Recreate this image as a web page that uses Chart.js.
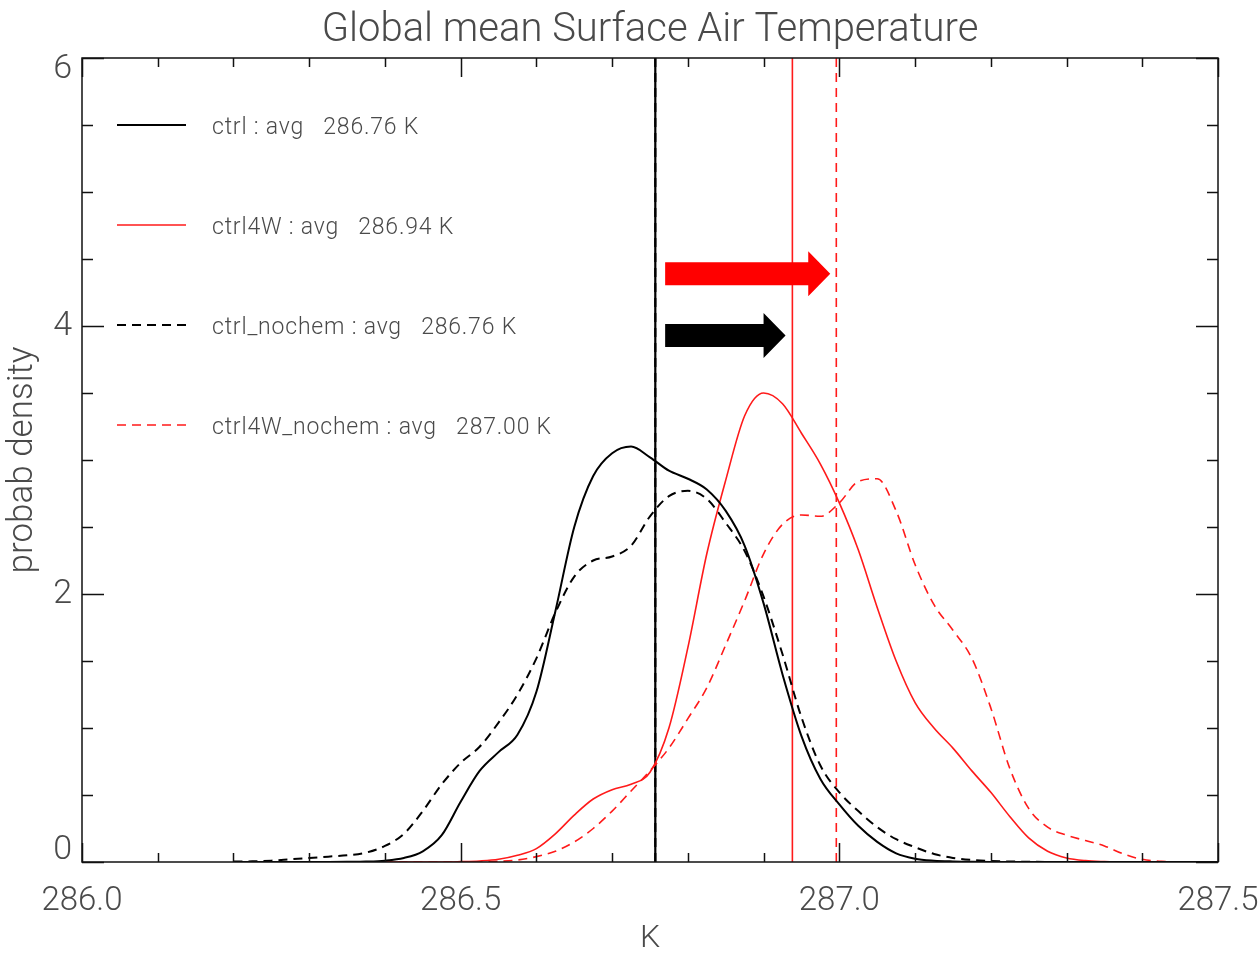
<!DOCTYPE html>
<html>
<head>
<meta charset="utf-8">
<script src="https://cdn.jsdelivr.net/npm/chart.js@4.4.1/dist/chart.umd.min.js"></script>
<style>
  html, body { margin: 0; padding: 0; background: #ffffff; }
  #c { display: block; }
</style>
</head>
<body>
<canvas id="c" width="1259" height="957"></canvas>
<script>
// ---------------- data ----------------
const temps = [
  286.200, 286.225, 286.250, 286.275, 286.300, 286.325, 286.350, 286.375, 286.400, 286.425,
  286.450, 286.475, 286.500, 286.525, 286.550, 286.575, 286.600, 286.625, 286.650, 286.675,
  286.700, 286.725, 286.750, 286.775, 286.800, 286.825, 286.850, 286.875, 286.900, 286.925,
  286.950, 286.975, 287.000, 287.025, 287.050, 287.075, 287.100, 287.125, 287.150, 287.175,
  287.200, 287.225, 287.250, 287.275, 287.300, 287.325, 287.350, 287.375, 287.400, 287.425,
  287.450, 287.475, 287.500
];
const ctrl = [
  0, 0, 0, 0, 0, 0, 0.001, 0.003, 0.01, 0.03,
  0.08, 0.20, 0.45, 0.68, 0.82, 0.95, 1.27, 1.87, 2.50, 2.88,
  3.05, 3.10, 3.02, 2.92, 2.86, 2.78, 2.62, 2.36, 1.93, 1.40,
  0.94, 0.62, 0.43, 0.27, 0.15, 0.065, 0.025, 0.01, 0.004, 0.001,
  0, 0, 0, 0, 0, 0, 0, 0, 0, 0,
  0, 0, 0
];
const ctrl4W = [
  0, 0, 0, 0, 0, 0, 0, 0, 0, 0,
  0, 0, 0.003, 0.008, 0.02, 0.05, 0.10, 0.21, 0.35, 0.47,
  0.54, 0.58, 0.67, 1.00, 1.60, 2.30, 2.85, 3.33, 3.50, 3.42,
  3.20, 2.97, 2.68, 2.33, 1.90, 1.50, 1.19, 1.00, 0.85, 0.68,
  0.52, 0.34, 0.18, 0.08, 0.03, 0.01, 0.003, 0, 0, 0,
  0, 0, 0
];
const ctrlNochem = [
  0.003, 0.005, 0.01, 0.02, 0.03, 0.04, 0.05, 0.07, 0.12, 0.21,
  0.38, 0.58, 0.74, 0.86, 1.04, 1.25, 1.52, 1.86, 2.13, 2.25,
  2.28, 2.36, 2.58, 2.73, 2.77, 2.71, 2.53, 2.32, 1.98, 1.55,
  1.08, 0.72, 0.52, 0.38, 0.26, 0.17, 0.11, 0.06, 0.03, 0.015,
  0.008, 0.004, 0.002, 0, 0, 0, 0, 0, 0, 0,
  0, 0, 0
];
const ctrl4WNochem = [
  0, 0, 0, 0, 0, 0, 0, 0, 0, 0,
  0, 0, 0, 0, 0.005, 0.015, 0.04, 0.08, 0.15, 0.25,
  0.38, 0.53, 0.68, 0.85, 1.07, 1.30, 1.62, 1.95, 2.30, 2.52,
  2.59, 2.58, 2.68, 2.84, 2.86, 2.62, 2.22, 1.92, 1.73, 1.52,
  1.15, 0.70, 0.40, 0.26, 0.20, 0.16, 0.12, 0.06, 0.02, 0.005,
  0, 0, 0
];
const seriesNames = ['ctrl', 'ctrl4W', 'ctrl_nochem', 'ctrl4W_nochem'];
const seriesAvg = [286.76, 286.94, 286.76, 287.00];
const meanLinePos = [286.757, 286.938, 286.757, 286.996];
const arrowFrom = [286.770, 286.770];
const arrowTo = [286.988, 286.929];
const arrowLevel = [4.39, 3.93];
const xMajorValues = [286.0, 286.5, 287.0, 287.5];
const xTickLabels = ['286.0', '286.5', '287.0', '287.5'];
const yMajorValues = [0, 2, 4, 6];
const yTickLabels = ['0', '2', '4', '6'];

// ---------------- styles ----------------
const RED = '#ff1a1a';
const curveSeries = [ctrl, ctrl4W, ctrlNochem, ctrl4WNochem];
const seriesColors = ['#000000', RED, '#000000', RED];
const seriesDash = [[], [], [9, 6], [9, 6]];
const seriesWidth = [2, 1.6, 2, 1.6];
const meanWidth = [2.2, 1.6, 2.2, 1.6];
const arrowColors = ['#ff0000', '#000000'];
const TEXT = '#4a4a4a';
const FONT = '"Roboto", "Liberation Sans", sans-serif';

const curveDatasets = curveSeries.map((vals, i) => ({
  label: seriesNames[i],
  data: temps.map((t, j) => ({ x: t, y: vals[j] })),
  borderColor: seriesColors[i],
  borderWidth: seriesWidth[i],
  borderDash: seriesDash[i],
  pointRadius: 0,
  fill: false,
  cubicInterpolationMode: 'monotone'
}));
const meanDatasets = meanLinePos.map((m, i) => ({
  label: seriesNames[i] + ' avg',
  data: [{ x: m, y: 0 }, { x: m, y: 6 }],
  borderColor: seriesColors[i],
  borderWidth: meanWidth[i],
  borderDash: seriesDash[i],
  pointRadius: 0,
  fill: false
}));

function labelFor(values, labels, v) {
  const k = values.findIndex(m => Math.abs(m - v) < 1e-6);
  return k >= 0 ? labels[k] : '';
}

// box + inward ticks on all four sides
const boxTicks = {
  id: 'boxTicks',
  afterDraw(chart) {
    const { ctx, chartArea: a, scales: { x, y } } = chart;
    ctx.save();
    ctx.strokeStyle = '#111';
    ctx.lineWidth = 1.5;
    ctx.setLineDash([]);
    ctx.strokeRect(a.left, a.top, a.right - a.left, a.bottom - a.top);
    ctx.beginPath();
    x.ticks.forEach(t => {
      const p = Math.round(x.getPixelForValue(t.value)) + 0.5;
      const len = t.label ? 19 : 9;
      ctx.moveTo(p, a.bottom); ctx.lineTo(p, a.bottom - len);
      ctx.moveTo(p, a.top); ctx.lineTo(p, a.top + len);
    });
    y.ticks.forEach(t => {
      const p = Math.round(y.getPixelForValue(t.value)) + 0.5;
      const len = t.label ? 22 : 11;
      ctx.moveTo(a.left, p); ctx.lineTo(a.left + len, p);
      ctx.moveTo(a.right, p); ctx.lineTo(a.right - len, p);
    });
    ctx.stroke();
    ctx.restore();
  }
};

// legend inside plot area
const innerLegend = {
  id: 'innerLegend',
  afterDatasetsDraw(chart) {
    const { ctx, chartArea: a } = chart;
    ctx.save();
    seriesNames.forEach((name, i) => {
      const ds = chart.data.datasets[i];
      const yy = a.top + 67 + i * 100;
      ctx.strokeStyle = ds.borderColor;
      ctx.lineWidth = ds.borderWidth;
      ctx.setLineDash(ds.borderDash);
      ctx.beginPath();
      ctx.moveTo(a.left + 35, yy);
      ctx.lineTo(a.left + 104, yy);
      ctx.stroke();
      ctx.fillStyle = TEXT;
      ctx.font = '300 23px ' + FONT;
      if ('letterSpacing' in ctx) ctx.letterSpacing = '0.8px';
      ctx.textBaseline = 'middle';
      ctx.textAlign = 'left';
      ctx.fillText(name + ' : avg   ' + seriesAvg[i].toFixed(2) + ' K', a.left + 130, yy + 3);
      if ('letterSpacing' in ctx) ctx.letterSpacing = '0px';
    });
    ctx.restore();
  }
};

// shift arrows
const shiftArrows = {
  id: 'shiftArrows',
  afterDatasetsDraw(chart) {
    const { ctx, scales: { x, y } } = chart;
    ctx.save();
    arrowFrom.forEach((f, i) => {
      const x0 = x.getPixelForValue(f);
      const x1 = x.getPixelForValue(arrowTo[i]);
      const yc = y.getPixelForValue(arrowLevel[i]);
      const sh = 11.5, hh = 22.5, hl = 22;
      ctx.fillStyle = arrowColors[i];
      ctx.beginPath();
      ctx.moveTo(x0, yc - sh);
      ctx.lineTo(x1 - hl, yc - sh);
      ctx.lineTo(x1 - hl, yc - hh);
      ctx.lineTo(x1, yc);
      ctx.lineTo(x1 - hl, yc + hh);
      ctx.lineTo(x1 - hl, yc + sh);
      ctx.lineTo(x0, yc + sh);
      ctx.closePath();
      ctx.fill();
    });
    ctx.restore();
  }
};

new Chart(document.getElementById('c'), {
  type: 'line',
  data: { datasets: curveDatasets.concat(meanDatasets) },
  options: {
    responsive: false,
    animation: false,
    devicePixelRatio: 1,
    layout: { padding: { left: 6, right: 41, top: 0, bottom: 0 } },
    plugins: {
      legend: { display: false },
      tooltip: { enabled: false },
      title: {
        display: true,
        fullSize: false,
        text: 'Global mean Surface Air Temperature',
        color: TEXT,
        font: { family: FONT, size: 40, weight: '300', lineHeight: 1.2 },
        padding: { top: 7, bottom: 3 }
      }
    },
    scales: {
      x: {
        type: 'linear',
        min: 286.0,
        max: 287.5,
        grid: { display: false, drawTicks: false },
        border: { display: false },
        ticks: {
          stepSize: 0.1,
          autoSkip: false,
          maxRotation: 0,
          padding: 20,
          color: TEXT,
          font: { family: FONT, size: 33, weight: '300' },
          callback: (v) => labelFor(xMajorValues, xTickLabels, v)
        },
        title: {
          display: true,
          text: 'K',
          color: TEXT,
          font: { family: FONT, size: 32, weight: '300', lineHeight: 1 },
          padding: { top: 0, bottom: 2 }
        },
        afterFit(scale) { scale.height = 95; scale.paddingLeft = 0; scale.paddingRight = 0; }
      },
      y: {
        type: 'linear',
        min: 0,
        max: 6,
        grid: { display: false, drawTicks: false },
        border: { display: false },
        ticks: {
          stepSize: 0.5,
          autoSkip: false,
          padding: 10,
          color: TEXT,
          font: { family: FONT, size: 34, weight: '300', lineHeight: 0.7 },
          callback: (v) => {
            const s = labelFor(yMajorValues, yTickLabels, v);
            if (!s) return '';
            if (v === 0) return [s, ''];
            if (v === 6) return ['', s];
            return s;
          }
        },
        title: {
          display: true,
          text: 'probab density',
          color: TEXT,
          font: { family: FONT, size: 35, weight: '300', lineHeight: 1.0 },
          padding: { top: 0, bottom: 0 }
        },
        afterFit(scale) { scale.width = 76; scale.paddingTop = 0; scale.paddingBottom = 0; }
      }
    }
  },
  plugins: [shiftArrows, innerLegend, boxTicks]
});
</script>
</body>
</html>
